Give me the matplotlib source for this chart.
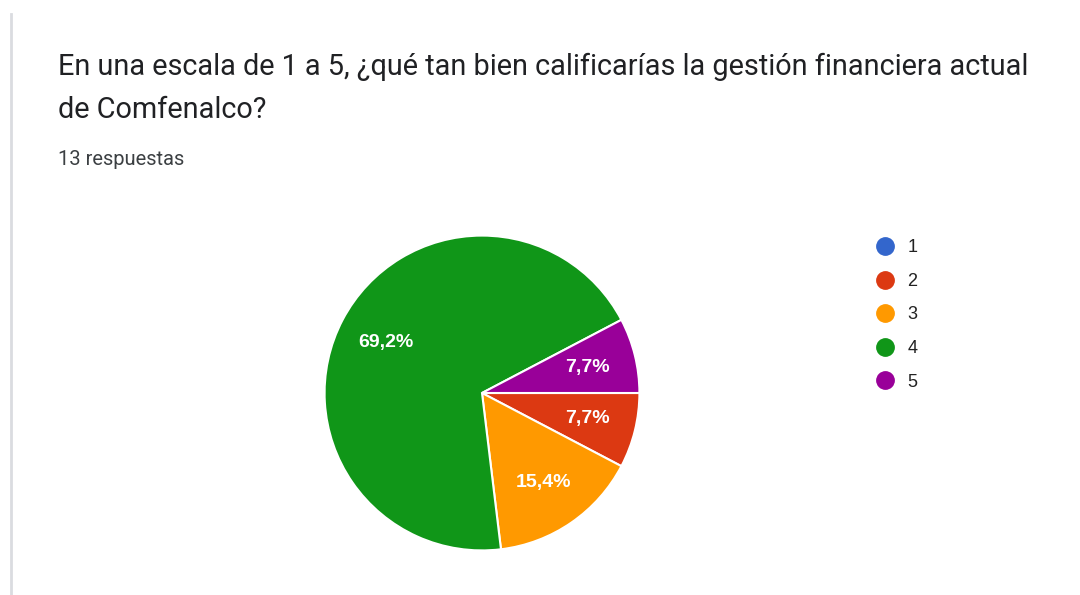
import matplotlib
matplotlib.use("Agg")
import matplotlib.pyplot as plt
from matplotlib.lines import Line2D

title_line1 = "En una escala de 1 a 5, ¿qué tan bien calificarías la gestión financiera actual"
title_line2 = "de Comfenalco?"
subtitle = "13 respuestas"
categories = ["1", "2", "3", "4", "5"]
counts = [0, 1, 2, 9, 1]
colors = ["#3366cc", "#dc3912", "#ff9900", "#109618", "#990099"]

W, H = 1080, 595
fig = plt.figure(figsize=(W / 100, H / 100), dpi=100)
fig.patch.set_facecolor("white")

# left card border
fig.add_artist(Line2D([11 / W, 11 / W], [0, 1 - 14 / H], transform=fig.transFigure,
                      color="#dadce0", lw=2))

fig.text(58 / W, 1 - 75 / H, title_line1, fontsize=20.8, family="Roboto",
         color="#202124", ha="left", va="baseline")
fig.text(58 / W, 1 - 118 / H, title_line2, fontsize=20.8, family="Roboto",
         color="#202124", ha="left", va="baseline")
fig.text(58 / W, 1 - 165 / H, subtitle, fontsize=14.5, family="Roboto",
         color="#3c4043", ha="left", va="baseline")

cx, cy, r = 482, 393, 159
ax = fig.add_axes([(cx - r) / W, (H - cy - r) / H, 2 * r / W, 2 * r / H])


def fmt(p):
    if p <= 0:
        return ""
    return f"{p:.1f}%".replace(".", ",")


wedges, texts, autotexts = ax.pie(
    counts, colors=colors, startangle=0, counterclock=False, radius=1,
    autopct=fmt, pctdistance=0.69,
    wedgeprops=dict(edgecolor="white", linewidth=1.5),
    textprops=dict(color="white", fontsize=14, fontweight="bold",
                   family="Liberation Sans"),
)
ax.set_xlim(-1.01, 1.01)
ax.set_ylim(-1.01, 1.01)
ax.set_aspect("equal")
ax.axis("off")

handles = [Line2D([0], [0], marker="o", linestyle="none", markersize=12.5,
                  markerfacecolor=c, markeredgecolor=c) for c in colors]
fig.legend(handles, categories, loc="upper left",
           bbox_to_anchor=(856 / W, 1 - 223 / H), frameon=False,
           labelspacing=0.92, handletextpad=0.55, handlelength=1.4,
           prop=dict(family="Liberation Sans", size=13), labelcolor="#222222")

fig.savefig("out.png", dpi=100, facecolor="white")
